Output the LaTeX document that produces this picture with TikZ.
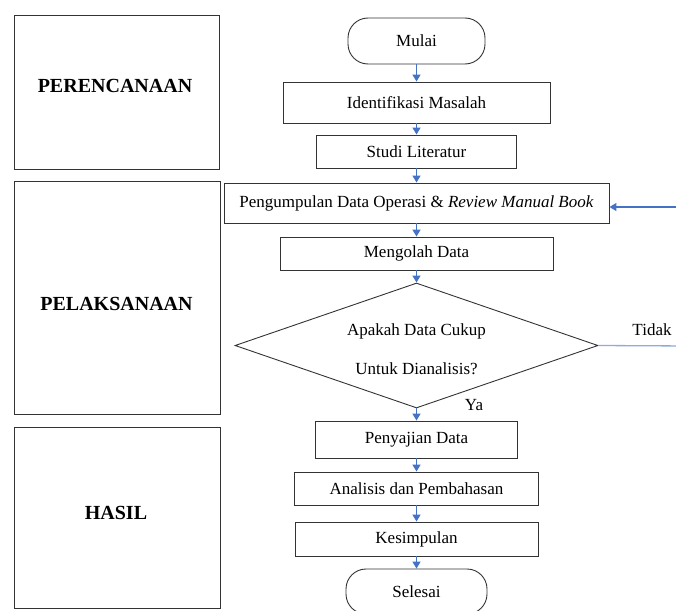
\documentclass[tikz,border=0pt]{standalone}
\usepackage{fontspec}
\setmainfont{Liberation Serif}
\usetikzlibrary{arrows.meta,shapes.geometric}
\definecolor{flowblue}{HTML}{4472C4}
\definecolor{lightflow}{HTML}{8FAADC}
\begin{document}
\begin{tikzpicture}[x=1pt,y=-1pt,
  base/.style={draw=black!80,line width=0.9pt,inner sep=0pt,
    font=\fontsize{17}{20}\selectfont},
  procbox/.style={base,rectangle},
  termbox/.style={base,rectangle,rounded corners=20pt},
  phasebox/.style={base,rectangle,font=\fontsize{20}{24}\selectfont\bfseries},
  decbox/.style={base,diamond},
  plain/.style={inner sep=0pt,font=\fontsize{17}{20}\selectfont},
  flow/.style={draw=flowblue,line width=1.3pt,-{Triangle[width=8pt,length=7pt]}},
  loopline/.style={draw=lightflow,line width=1.3pt}
]
\useasboundingbox (0,0) rectangle (676,610);

% phase boxes
\node[phasebox,minimum width=205pt,minimum height=154pt] (plan) at (117,92) {};
\node[phasebox,draw=none] (plantext) at (115,86) {PERENCANAAN};
\node[phasebox,minimum width=206pt,minimum height=233pt] (pel) at (117,297.5) {};
\node[phasebox,draw=none] (peltext) at (116.5,304) {PELAKSANAAN};
\node[phasebox,minimum width=206pt,minimum height=181pt] (has) at (117,517.5) {};
\node[phasebox,draw=none] (hastext) at (116,513) {HASIL};

% flow nodes
\node[termbox,minimum width=137pt,minimum height=46pt] (mulai) at (416.5,41) {Mulai};
\node[procbox,minimum width=267pt,minimum height=41pt] (ident) at (416.5,102.5) {Identifikasi Masalah};
\node[procbox,minimum width=200pt,minimum height=33pt] (studi) at (416.5,151.5) {Studi Literatur};
\node[procbox,minimum width=385pt,minimum height=40pt] (peng) at (416.5,203) {Pengumpulan Data Operasi \& \textit{Review Manual Book}};
\node[procbox,minimum width=273pt,minimum height=33pt] (olah) at (416.5,253.5) {Mengolah Data};
\node[decbox,minimum width=363pt,minimum height=125pt] (dec) at (416.5,345.5) {};
\node[plain,align=center,font=\fontsize{17}{39}\selectfont] (dectext) at (416.5,349) {Apakah Data Cukup\\Untuk Dianalisis?};
\node[procbox,minimum width=202pt,minimum height=37pt] (saji) at (416.5,439.5) {Penyajian Data};
\node[procbox,minimum width=244pt,minimum height=33pt] (anal) at (416.5,488.5) {Analisis dan Pembahasan};
\node[procbox,minimum width=243pt,minimum height=34pt] (kes) at (416.5,539) {Kesimpulan};
\node[termbox,minimum width=141pt,minimum height=45pt] (sel) at (416.5,591.5) {Selesai};

% labels
\node[plain] (tidak) at (652,330) {Tidak};
\node[plain] (ya) at (474,405) {Ya};

% connectors
\draw[flow] (mulai) -- (ident);
\draw[flow] (ident) -- (studi);
\draw[flow] (studi) -- (peng);
\draw[flow] (peng) -- (olah);
\draw[flow] (olah) -- (dec);
\draw[flow] (dec) -- (saji);
\draw[flow] (saji) -- (anal);
\draw[flow] (anal) -- (kes);
\draw[flow] (kes) -- (sel);

\coordinate (loopbot) at (690,346);
\coordinate (looptop) at (690,207);
\draw[loopline] (dec.east) -- (loopbot);
\draw[flow] (loopbot) -- (looptop) -- (looptop -| peng.east);
\end{tikzpicture}
\end{document}
